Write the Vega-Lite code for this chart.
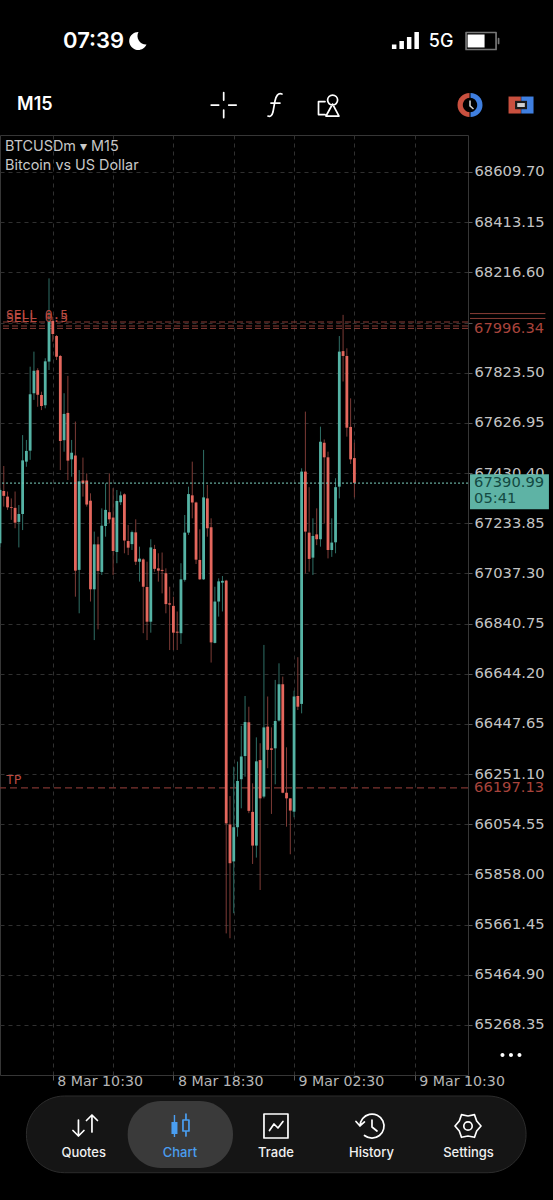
{
"$schema":"https://vega.github.io/schema/vega-lite/v6.json",
"width":468,"height":940,"autosize":"none",
"padding":{"left":0,"top":135,"right":85,"bottom":125},
"background":"#000000",
"config":{"view":{"stroke":"#363636","strokeWidth":1}},
"datasets":{"candles":[
{"t":"2024-03-08T07:00Z","o":67155,"h":67370,"l":67140,"c":67364},
{"t":"2024-03-08T07:15Z","o":67360,"h":67458,"l":67299,"c":67341},
{"t":"2024-03-08T07:30Z","o":67338,"h":67358,"l":67286,"c":67296},
{"t":"2024-03-08T07:45Z","o":67297,"h":67331,"l":67247,"c":67294},
{"t":"2024-03-08T08:00Z","o":67294,"h":67358,"l":67214,"c":67236},
{"t":"2024-03-08T08:15Z","o":67239,"h":67305,"l":67139,"c":67270},
{"t":"2024-03-08T08:30Z","o":67270,"h":67579,"l":67207,"c":67480},
{"t":"2024-03-08T08:45Z","o":67475,"h":67560,"l":67455,"c":67517},
{"t":"2024-03-08T09:00Z","o":67518,"h":67847,"l":67482,"c":67739},
{"t":"2024-03-08T09:15Z","o":67743,"h":67906,"l":67717,"c":67831},
{"t":"2024-03-08T09:30Z","o":67833,"h":67841,"l":67690,"c":67737},
{"t":"2024-03-08T09:45Z","o":67736,"h":67749,"l":67677,"c":67693},
{"t":"2024-03-08T10:00Z","o":67696,"h":67880,"l":67684,"c":67868},
{"t":"2024-03-08T10:15Z","o":67867,"h":68193,"l":67834,"c":68026},
{"t":"2024-03-08T10:30Z","o":68026,"h":68043,"l":67945,"c":67975},
{"t":"2024-03-08T10:45Z","o":67967,"h":67971,"l":67873,"c":67886},
{"t":"2024-03-08T11:00Z","o":67889,"h":67893,"l":67442,"c":67556},
{"t":"2024-03-08T11:15Z","o":67559,"h":67743,"l":67514,"c":67662},
{"t":"2024-03-08T11:30Z","o":67666,"h":67811,"l":67403,"c":67479},
{"t":"2024-03-08T11:45Z","o":67484,"h":67560,"l":67416,"c":67510},
{"t":"2024-03-08T12:00Z","o":67499,"h":67632,"l":66946,"c":67048},
{"t":"2024-03-08T12:15Z","o":67051,"h":67442,"l":66881,"c":67398},
{"t":"2024-03-08T12:30Z","o":67401,"h":67491,"l":67338,"c":67390},
{"t":"2024-03-08T12:45Z","o":67401,"h":67429,"l":67299,"c":67307},
{"t":"2024-03-08T13:00Z","o":67322,"h":67351,"l":66927,"c":66975},
{"t":"2024-03-08T13:15Z","o":66975,"h":67201,"l":66776,"c":67151},
{"t":"2024-03-08T13:30Z","o":67151,"h":67181,"l":66818,"c":67047},
{"t":"2024-03-08T13:45Z","o":67043,"h":67292,"l":67031,"c":67224},
{"t":"2024-03-08T14:00Z","o":67223,"h":67390,"l":67181,"c":67286},
{"t":"2024-03-08T14:15Z","o":67277,"h":67429,"l":67233,"c":67249},
{"t":"2024-03-08T14:30Z","o":67256,"h":67371,"l":67031,"c":67125},
{"t":"2024-03-08T14:45Z","o":67121,"h":67364,"l":67077,"c":67321},
{"t":"2024-03-08T15:00Z","o":67316,"h":67358,"l":67305,"c":67343},
{"t":"2024-03-08T15:15Z","o":67347,"h":67351,"l":67116,"c":67166},
{"t":"2024-03-08T15:30Z","o":67164,"h":67227,"l":67109,"c":67138},
{"t":"2024-03-08T15:45Z","o":67152,"h":67205,"l":67129,"c":67199},
{"t":"2024-03-08T16:00Z","o":67198,"h":67249,"l":67070,"c":67083},
{"t":"2024-03-08T16:15Z","o":67083,"h":67142,"l":67005,"c":67095},
{"t":"2024-03-08T16:30Z","o":67092,"h":67096,"l":66803,"c":66985},
{"t":"2024-03-08T16:45Z","o":66984,"h":67083,"l":66776,"c":66848},
{"t":"2024-03-08T17:00Z","o":66848,"h":67171,"l":66805,"c":67139},
{"t":"2024-03-08T17:15Z","o":67133,"h":67149,"l":67044,"c":67055},
{"t":"2024-03-08T17:30Z","o":67057,"h":67116,"l":67005,"c":67048},
{"t":"2024-03-08T17:45Z","o":67051,"h":67119,"l":66959,"c":67047},
{"t":"2024-03-08T18:00Z","o":67038,"h":67057,"l":66881,"c":66917},
{"t":"2024-03-08T18:15Z","o":66920,"h":66985,"l":66737,"c":66915},
{"t":"2024-03-08T18:30Z","o":66910,"h":66946,"l":66737,"c":66805},
{"t":"2024-03-08T18:45Z","o":66809,"h":66888,"l":66737,"c":66805},
{"t":"2024-03-08T19:00Z","o":66803,"h":67077,"l":66761,"c":67014},
{"t":"2024-03-08T19:15Z","o":67012,"h":67266,"l":67005,"c":67197},
{"t":"2024-03-08T19:30Z","o":67197,"h":67377,"l":67188,"c":67348},
{"t":"2024-03-08T19:45Z","o":67343,"h":67475,"l":67253,"c":67315},
{"t":"2024-03-08T20:00Z","o":67315,"h":67318,"l":67074,"c":67091},
{"t":"2024-03-08T20:15Z","o":67090,"h":67210,"l":67012,"c":67014},
{"t":"2024-03-08T20:30Z","o":67014,"h":67521,"l":67012,"c":67335},
{"t":"2024-03-08T20:45Z","o":67331,"h":67384,"l":67181,"c":67214},
{"t":"2024-03-08T21:00Z","o":67218,"h":67253,"l":66688,"c":66767},
{"t":"2024-03-08T21:15Z","o":66765,"h":66985,"l":66763,"c":66927},
{"t":"2024-03-08T21:30Z","o":66927,"h":67018,"l":66868,"c":67006},
{"t":"2024-03-08T21:45Z","o":67001,"h":67027,"l":66888,"c":67008},
{"t":"2024-03-08T22:00Z","o":67009,"h":67012,"l":65627,"c":66058},
{"t":"2024-03-08T22:15Z","o":66054,"h":66165,"l":65608,"c":65902},
{"t":"2024-03-08T22:30Z","o":65909,"h":66280,"l":65706,"c":66043},
{"t":"2024-03-08T22:45Z","o":66043,"h":66300,"l":66006,"c":66224},
{"t":"2024-03-08T23:00Z","o":66231,"h":66440,"l":66117,"c":66320},
{"t":"2024-03-08T23:15Z","o":66322,"h":66557,"l":66241,"c":66455},
{"t":"2024-03-08T23:30Z","o":66454,"h":66515,"l":66098,"c":66107},
{"t":"2024-03-08T23:45Z","o":66103,"h":66215,"l":65899,"c":65971},
{"t":"2024-03-09T00:00Z","o":65971,"h":66395,"l":65924,"c":66301},
{"t":"2024-03-09T00:15Z","o":66306,"h":66372,"l":65797,"c":66156},
{"t":"2024-03-09T00:30Z","o":66163,"h":66757,"l":66156,"c":66434},
{"t":"2024-03-09T00:45Z","o":66437,"h":66555,"l":66274,"c":66346},
{"t":"2024-03-09T01:00Z","o":66352,"h":66434,"l":66095,"c":66346},
{"t":"2024-03-09T01:15Z","o":66352,"h":66620,"l":66211,"c":66459},
{"t":"2024-03-09T01:30Z","o":66461,"h":66685,"l":66457,"c":66603},
{"t":"2024-03-09T01:45Z","o":66603,"h":66633,"l":66176,"c":66178},
{"t":"2024-03-09T02:00Z","o":66178,"h":66356,"l":66045,"c":66156},
{"t":"2024-03-09T02:15Z","o":66156,"h":66156,"l":65937,"c":66108},
{"t":"2024-03-09T02:30Z","o":66104,"h":66578,"l":66082,"c":66555},
{"t":"2024-03-09T02:45Z","o":66557,"h":66709,"l":66502,"c":66515},
{"t":"2024-03-09T03:00Z","o":66526,"h":67449,"l":66489,"c":67436},
{"t":"2024-03-09T03:15Z","o":67436,"h":67671,"l":67037,"c":67201},
{"t":"2024-03-09T03:30Z","o":67197,"h":67375,"l":67044,"c":67094},
{"t":"2024-03-09T03:45Z","o":67099,"h":67253,"l":67031,"c":67184},
{"t":"2024-03-09T04:00Z","o":67190,"h":67292,"l":67148,"c":67171},
{"t":"2024-03-09T04:15Z","o":67171,"h":67612,"l":67142,"c":67553},
{"t":"2024-03-09T04:30Z","o":67549,"h":67562,"l":67233,"c":67492},
{"t":"2024-03-09T04:45Z","o":67492,"h":67514,"l":67096,"c":67129},
{"t":"2024-03-09T05:00Z","o":67129,"h":67253,"l":67102,"c":67158},
{"t":"2024-03-09T05:15Z","o":67159,"h":67410,"l":67116,"c":67375},
{"t":"2024-03-09T05:30Z","o":67377,"h":67967,"l":67331,"c":67906},
{"t":"2024-03-09T05:45Z","o":67908,"h":68050,"l":67789,"c":67889},
{"t":"2024-03-09T06:00Z","o":67889,"h":67919,"l":67573,"c":67608},
{"t":"2024-03-09T06:15Z","o":67611,"h":67723,"l":67466,"c":67484},
{"t":"2024-03-09T06:30Z","o":67489,"h":67549,"l":67335,"c":67392}
]},
"encoding":{
"x":{"field":"t","type":"temporal","title":null,"scale":{"type":"utc","domain":[1709881200000,1709992920000],"padding":0,"nice":false},
"axis":{"values":[1709893800000,1709908200000,1709922600000,1709937000000,1709951400000,1709965800000,1709980200000],
"grid":true,"gridColor":"#303030","gridDash":[4,4],"gridWidth":1,"domain":false,"tickColor":"#555555","tickSize":5,
"tickOpacity":{"condition":{"test":"utchours(datum.value)%8==2","value":1},"value":0},
"labelExpr":"utchours(datum.value)%8==2?utcFormat(datum.value,'%-d %b %H:%M'):''",
"labelFont":"DejaVu Sans","labelFontSize":14.2,"labelColor":"#b5b5b5","labelAlign":"left","labelBaseline":"middle","labelOffset":4,"labelPadding":1,"labelBound":false,"labelFlush":false,"labelOverlap":false}},
"y":{"field":"p","type":"quantitative","title":null,"scale":{"domain":[65072.3,68754.6],"nice":false,"zero":false},
"axis":{"orient":"right","values":[68609.70,68413.15,68216.60,68020.05,67823.50,67626.95,67430.40,67233.85,67037.30,66840.75,66644.20,66447.65,66251.10,66054.55,65858.00,65661.45,65464.90,65268.35],
"grid":true,"gridColor":"#303030","gridDash":[4,4],"gridWidth":1,"domain":false,"tickColor":"#555555","tickSize":4,
"labelExpr":"abs(datum.value-68020.05)<1?'':format(datum.value,'.2f')",
"labelFont":"DejaVu Sans","labelFontSize":14.7,"labelColor":"#c4c4c4","labelPadding":2,"labelBound":false,"labelFlush":false,"labelOverlap":false}}
},
"resolve":{"scale":{"color":"independent","shape":"independent"}},
"layer":[
{"data":{"values":[{"p":68022},{"p":68006.4},{"p":67997}]},"mark":{"type":"rule","color":"#8a3d36","strokeWidth":1,"strokeDash":[6,3]},"encoding":{"x":null}},
{"data":{"values":[{"p":66197.13}]},"mark":{"type":"rule","color":"#7d3530","strokeWidth":1.2,"strokeDash":[7,4]},"encoding":{"x":null}},
{"data":{"name":"candles"},"mark":{"type":"rule","strokeWidth":1},
"encoding":{
"y":{"field":"l","type":"quantitative","title":null,"scale":{"domain":[65072.3,68754.6],"nice":false,"zero":false}},
"y2":{"field":"h"},
"color":{"condition":{"test":"datum.c>=datum.o","value":"#2f6f66"},"value":"#7d3b36"}}},
{"data":{"name":"candles"},"mark":{"type":"rule","strokeWidth":2.8},
"encoding":{
"y":{"field":"o","type":"quantitative","title":null,"scale":{"domain":[65072.3,68754.6],"nice":false,"zero":false}},
"y2":{"field":"c"},
"color":{"condition":{"test":"datum.c>=datum.o","value":"#55b3a5"},"value":"#e4675d"}}},
{"data":{"values":[{"p":67390.99}]},"mark":{"type":"rule","color":"#7fd0c0","strokeWidth":1,"strokeDash":[2,2]},"encoding":{"x":null}},
{"data":{"values":[{"label":"SELL 0.5","t":"2024-03-08T07:24Z","p":68049.5},{"label":"SELL 0.5","t":"2024-03-08T07:24Z","p":68037.9},{"label":"TP","t":"2024-03-08T07:24Z","p":66228}]},
"mark":{"type":"text","align":"left","baseline":"middle","font":"DejaVu Sans Mono","fontSize":12.9,"color":"#b84a40"},
"encoding":{"text":{"field":"label"}}},
{"data":{"values":[{"t":"2024-03-09T14:10Z","t2":"2024-03-09T19:10Z","p":68055},{"t":"2024-03-09T14:10Z","t2":"2024-03-09T19:10Z","p":68036}],"format":{"parse":{"t":"date","t2":"date"}}},
"mark":{"type":"rule","color":"#8a3d36","strokeWidth":1},"encoding":{"x2":{"field":"t2"}}},
{"data":{"values":[{"t":"2024-03-09T14:10Z","t2":"2024-03-09T19:24Z","p":67425.5,"p2":67288.4}],"format":{"parse":{"t":"date","t2":"date"}}},
"mark":{"type":"rect","color":"#5eb3a5"},"encoding":{"x2":{"field":"t2"},"y2":{"field":"p2"}}},
{"data":{"values":[{"label":"67996.34","t":"2024-03-09T14:26Z","p":67996.34},{"label":"66197.13","t":"2024-03-09T14:26Z","p":66197.13}]},
"mark":{"type":"text","align":"left","baseline":"middle","font":"DejaVu Sans","fontSize":14.7,"color":"#a8443c"},"encoding":{"text":{"field":"label"}}},
{"data":{"values":[{"label":"67390.99","t":"2024-03-09T14:26Z","p":67391},{"label":"05:41","t":"2024-03-09T14:26Z","p":67328.7}]},
"mark":{"type":"text","align":"left","baseline":"middle","font":"DejaVu Sans","fontSize":14.7,"color":"#134a42"},"encoding":{"text":{"field":"label"}}},
{"data":{"values":[{"label":"BTCUSDm ▾ M15","t":"2024-03-08T07:20Z","p":68707.6},{"label":"Bitcoin vs US Dollar","t":"2024-03-08T07:20Z","p":68633}]},
"mark":{"type":"text","align":"left","baseline":"middle","font":"Inter","fontSize":14.4,"color":"#c8c8c8"},"encoding":{"text":{"field":"label"}}},
{"data":{"values":[{"label":"07:39","t":"2024-03-08T11:11Z","p":69122.9}]},
"mark":{"type":"text","align":"left","baseline":"middle","font":"Inter","fontSize":22,"fontWeight":600,"color":"#ffffff"},"encoding":{"text":{"field":"label"}}},
{"data":{"values":[{"label":"5G","t":"2024-03-09T12:15Z","p":69119}]},
"mark":{"type":"text","align":"center","baseline":"middle","font":"Inter","fontSize":18,"fontWeight":500,"color":"#ffffff"},"encoding":{"text":{"field":"label"}}},
{"data":{"values":[{"label":"M15","t":"2024-03-08T08:08Z","p":68872}]},
"mark":{"type":"text","align":"left","baseline":"middle","font":"Inter","fontSize":18,"fontWeight":600,"color":"#ffffff"},"encoding":{"text":{"field":"label"}}},
{"data":{"values":[{"t":"2024-03-08T08:45Z","t2":"2024-03-09T17:53Z","p":64990,"p2":64689.6}],"format":{"parse":{"t":"date","t2":"date"}}},
"mark":{"type":"rect","color":"#151515","stroke":"#2c2c2c","cornerRadius":38},"encoding":{"x2":{"field":"t2"},"y2":{"field":"p2"}}},
{"data":{"values":[{"t":"2024-03-08T15:28Z","t2":"2024-03-08T22:27Z","p":64970.6,"p2":64708}],"format":{"parse":{"t":"date","t2":"date"}}},
"mark":{"type":"rect","color":"#3a3a3a","cornerRadius":33},"encoding":{"x2":{"field":"t2"},"y2":{"field":"p2"}}},
{"data":{"values":[{"label":"Quotes","t":"2024-03-08T12:33Z","p":64768},{"label":"Trade","t":"2024-03-09T01:18Z","p":64768},{"label":"History","t":"2024-03-09T07:38Z","p":64768},{"label":"Settings","t":"2024-03-09T14:04Z","p":64768}]},
"mark":{"type":"text","align":"center","baseline":"middle","font":"Inter","fontSize":13,"fontWeight":500,"color":"#f0f0f0"},"encoding":{"text":{"field":"label"}}},
{"data":{"values":[{"label":"Chart","t":"2024-03-08T18:56Z","p":64768}]},
"mark":{"type":"text","align":"center","baseline":"middle","font":"Inter","fontSize":13,"fontWeight":500,"color":"#4a9ef0"},"encoding":{"text":{"field":"label"}}},
{"data":{"values":[
{"icon":"crosshair","t":"2024-03-08T21:50Z","p":68872},
{"icon":"function","t":"2024-03-09T01:18Z","p":68872},
{"icon":"objects","t":"2024-03-09T04:45Z","p":68872},
{"icon":"quotes","t":"2024-03-08T12:38Z","p":64872.6},
{"icon":"trade","t":"2024-03-09T01:18Z","p":64872.6},
{"icon":"history","t":"2024-03-09T07:40Z","p":64872.6},
{"icon":"settings","t":"2024-03-09T14:02Z","p":64872.6},
{"icon":"hollow","t":"2024-03-08T18:56Z","p":64872.6},
{"icon":"battery","t":"2024-03-09T14:54Z","p":69122.9}]},
"mark":{"type":"point","filled":false,"opacity":1,"size":400,"strokeWidth":1.7,"strokeCap":"round","strokeJoin":"round"},
"encoding":{
"shape":{"field":"icon","type":"nominal","legend":null,"scale":{"domain":["crosshair","function","objects","quotes","trade","history","settings","hollow","battery"],"range":[
"M-1.25 0H-0.5M0.5 0H1.25M0 -1.25V-0.5M0 0.5V1.25",
"M0.6 -1.1C0.2 -1.25 0 -0.9 -0.1 -0.4L-0.3 0.7C-0.4 1.1 -0.6 1.2 -0.8 1.1M-0.5 -0.2H0.4",
"M-0.04 -0.5a0.5 0.5 0 1 0 1 0a0.5 0.5 0 1 0 -1 0ZM0.46 -0.1L1.1 1.1H-0.2ZM-0.3 -0.35H-0.95V0.95H-0.3",
"M-0.65 -0.6V1M-1.2 0.45L-0.65 1L-0.1 0.45M0.7 0.6V-1.1M0.15 -0.55L0.7 -1.1L1.25 -0.55",
"M-1.2 -1.2H1.2V1.2H-1.2ZM-0.65 0.45L-0.2 -0.2L0.2 0.2L0.7 -0.45",
"M-1.2 0A1.2 1.2 0 1 1 -0.75 0.95M-1.6 -0.45L-1.2 0L-0.75 -0.4M0 -0.6V0.1L0.5 0.5",
"M1.3 0L0.87 0.5L0.65 1.13L0 1L-0.65 1.13L-0.87 0.5L-1.3 0L-0.87 -0.5L-0.65 -1.13L0 -1L0.65 -1.13L0.87 -0.5ZM-0.42 0a0.42 0.42 0 1 0 0.84 0a0.42 0.42 0 1 0 -0.84 0Z",
"M0.3 -0.6H0.9V0.5H0.3ZM0.6 -1.2V-0.6M0.6 0.5V1",
"M-1.5 -0.85H1.5V0.85H-1.5ZM1.75 -0.25V0.25"]}},
"color":{"field":"icon","type":"nominal","legend":null,"scale":{"domain":["crosshair","function","objects","quotes","trade","history","settings","hollow","battery"],"range":["#ffffff","#ffffff","#ffffff","#ffffff","#ffffff","#ffffff","#ffffff","#4a9ef0","#777777"]}}}},
{"data":{"values":[
{"icon":"moon","t":"2024-03-08T16:07Z","p":69122.9},
{"icon":"signal","t":"2024-03-09T09:55Z","p":69122.9},
{"icon":"charge","t":"2024-03-09T14:54Z","p":69122.9},
{"icon":"clockred","t":"2024-03-09T14:10Z","p":68872},
{"icon":"clockblue","t":"2024-03-09T14:10Z","p":68872},
{"icon":"clockhole","t":"2024-03-09T14:10Z","p":68872},
{"icon":"clockhand","t":"2024-03-09T14:10Z","p":68872},
{"icon":"togglered","t":"2024-03-09T17:33Z","p":68872},
{"icon":"toggleblue","t":"2024-03-09T17:33Z","p":68872},
{"icon":"togglehole","t":"2024-03-09T17:33Z","p":68872},
{"icon":"togglepill","t":"2024-03-09T17:33Z","p":68872},
{"icon":"filled","t":"2024-03-08T18:56Z","p":64872.6},
{"icon":"dots","t":"2024-03-09T16:53Z","p":65150.8}]},
"mark":{"type":"point","filled":true,"opacity":1,"size":400,"strokeWidth":0},
"encoding":{
"shape":{"field":"icon","type":"nominal","legend":null,"scale":{"domain":["moon","signal","charge","clockred","clockblue","clockhole","clockhand","togglered","toggleblue","togglehole","togglepill","filled","dots"],"range":[
"M0.1 -0.9A0.9 0.9 0 1 0 0.9 0.35A0.85 0.85 0 0 1 0.1 -0.9Z",
"M-1.4 0.8V0.35H-0.95V0.8ZM-0.65 0.8V0H-0.2V0.8ZM0.1 0.8V-0.4H0.55V0.8ZM0.85 0.8V-0.9H1.3V0.8Z",
"M-1.35 -0.65H0.35V0.65H-1.35Z",
"M-0.05 -1.2A1.2 1.2 0 0 0 -0.05 1.2Z",
"M0.05 -1.2A1.2 1.2 0 0 1 0.05 1.2Z",
"M-0.72 0a0.72 0.72 0 1 0 1.44 0a0.72 0.72 0 1 0 -1.44 0Z",
"M-0.08 -0.45H0.08V0.05L0.4 0.35L0.3 0.45L-0.08 0.12Z",
"M-1.25 -0.85H-0.02V0.85H-1.25Z",
"M0.02 -0.85H1.25V0.85H0.02Z",
"M-0.6 -0.42H0.6V0.42H-0.6Z",
"M-0.38 -0.2H0.38V0.2H-0.38Z",
"M-0.85 -0.4H-0.25V0.8H-0.85ZM-0.62 -1.1H-0.48V1.1H-0.62Z",
"M-1.05 0a0.2 0.2 0 1 0 0.4 0a0.2 0.2 0 1 0 -0.4 0ZM-0.2 0a0.2 0.2 0 1 0 0.4 0a0.2 0.2 0 1 0 -0.4 0ZM0.65 0a0.2 0.2 0 1 0 0.4 0a0.2 0.2 0 1 0 -0.4 0Z"]}},
"color":{"field":"icon","type":"nominal","legend":null,"scale":{"domain":["moon","signal","charge","clockred","clockblue","clockhole","clockhand","togglered","toggleblue","togglehole","togglepill","filled","dots"],"range":["#ffffff","#ffffff","#ffffff","#c9503f","#3f7fe0","#000000","#cfcfcf","#c9503f","#3f7fe0","#1a1a1a","#cfcfcf","#4a9ef0","#ffffff"]}}}}
]
}
